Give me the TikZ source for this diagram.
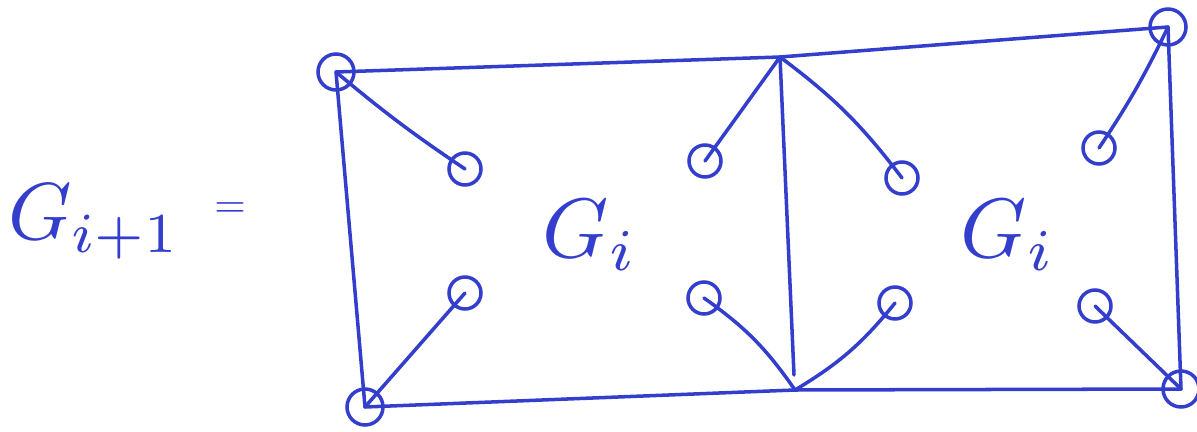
\documentclass[tikz,border=0pt]{standalone}
\usepackage{amsmath}
\usepackage{graphicx}
\definecolor{pen}{RGB}{52,62,205}
\begin{document}
\begin{tikzpicture}[x=0.02cm,y=-0.02cm,
  ink/.style={draw=pen,line width=2pt,line cap=round,line join=round},
  vtx/.style={circle,draw=pen,line width=2pt,minimum size=0.64cm,inner sep=0pt},
  bigvtx/.style={circle,draw=pen,line width=2pt,minimum size=0.72cm,inner sep=0pt},
  lbl/.style={text=pen,inner sep=0pt}]
\useasboundingbox (0,0) rectangle (1197,432);
% label
\node[lbl,anchor=base west] (gl) at (8,240) {\scalebox{4.6}{$G_{i+1}$}};
\node[lbl] (eq) at (230,210) {\scalebox{2.3}{$=$}};
% corner vertices
\node[bigvtx] (tl) at (336,72) {};
\node[bigvtx] (tr) at (1168,27) {};
\node[bigvtx] (bl) at (365,407) {};
\node[bigvtx] (br) at (1181,389) {};
% middle points
\coordinate (mt) at (780,57);
\coordinate (mb) at (795,390);
\coordinate (mv) at (794,375);
% small vertices
\node[vtx] (a1) at (465,169) {};
\node[vtx] (a2) at (465,293) {};
\node[vtx] (b1) at (705,161) {};
\node[vtx] (b2) at (704,298) {};
\node[vtx] (c1) at (902,178) {};
\node[vtx] (c2) at (895,303) {};
\node[vtx] (d1) at (1099,148) {};
\node[vtx] (d2) at (1095,306) {};
% G_i labels
\node[lbl] (g1) at (590,235) {\scalebox{4.8}{$G_i$}};
\node[lbl] (g2) at (1008,235) {\scalebox{4.8}{$G_i$}};
% frame
\draw[ink] (tl.center) -- (mt) -- (tr.center);
\draw[ink] (bl.center) -- (mb) -- (br.center);
\draw[ink] (tl.center) -- (bl.center);
\draw[ink] (tr.center) -- (br.center);
\draw[ink] (mt) -- (mv);
% spokes
\draw[ink] (tl.center) to[bend right=3] (a1.center);
\draw[ink] (bl.center) -- (a2.center);
\draw[ink] (mt) -- (b1.center);
\draw[ink] (mt) to[bend left=8] (c1.center);
\draw[ink] (mb) to[bend left=-10] (b2.center);
\draw[ink] (mb) to[bend left=-10] (c2.center);
\draw[ink] (tr.center) to[bend left=4] (d1.center);
\draw[ink] (br.center) -- (d2.center);
\end{tikzpicture}
\end{document}
